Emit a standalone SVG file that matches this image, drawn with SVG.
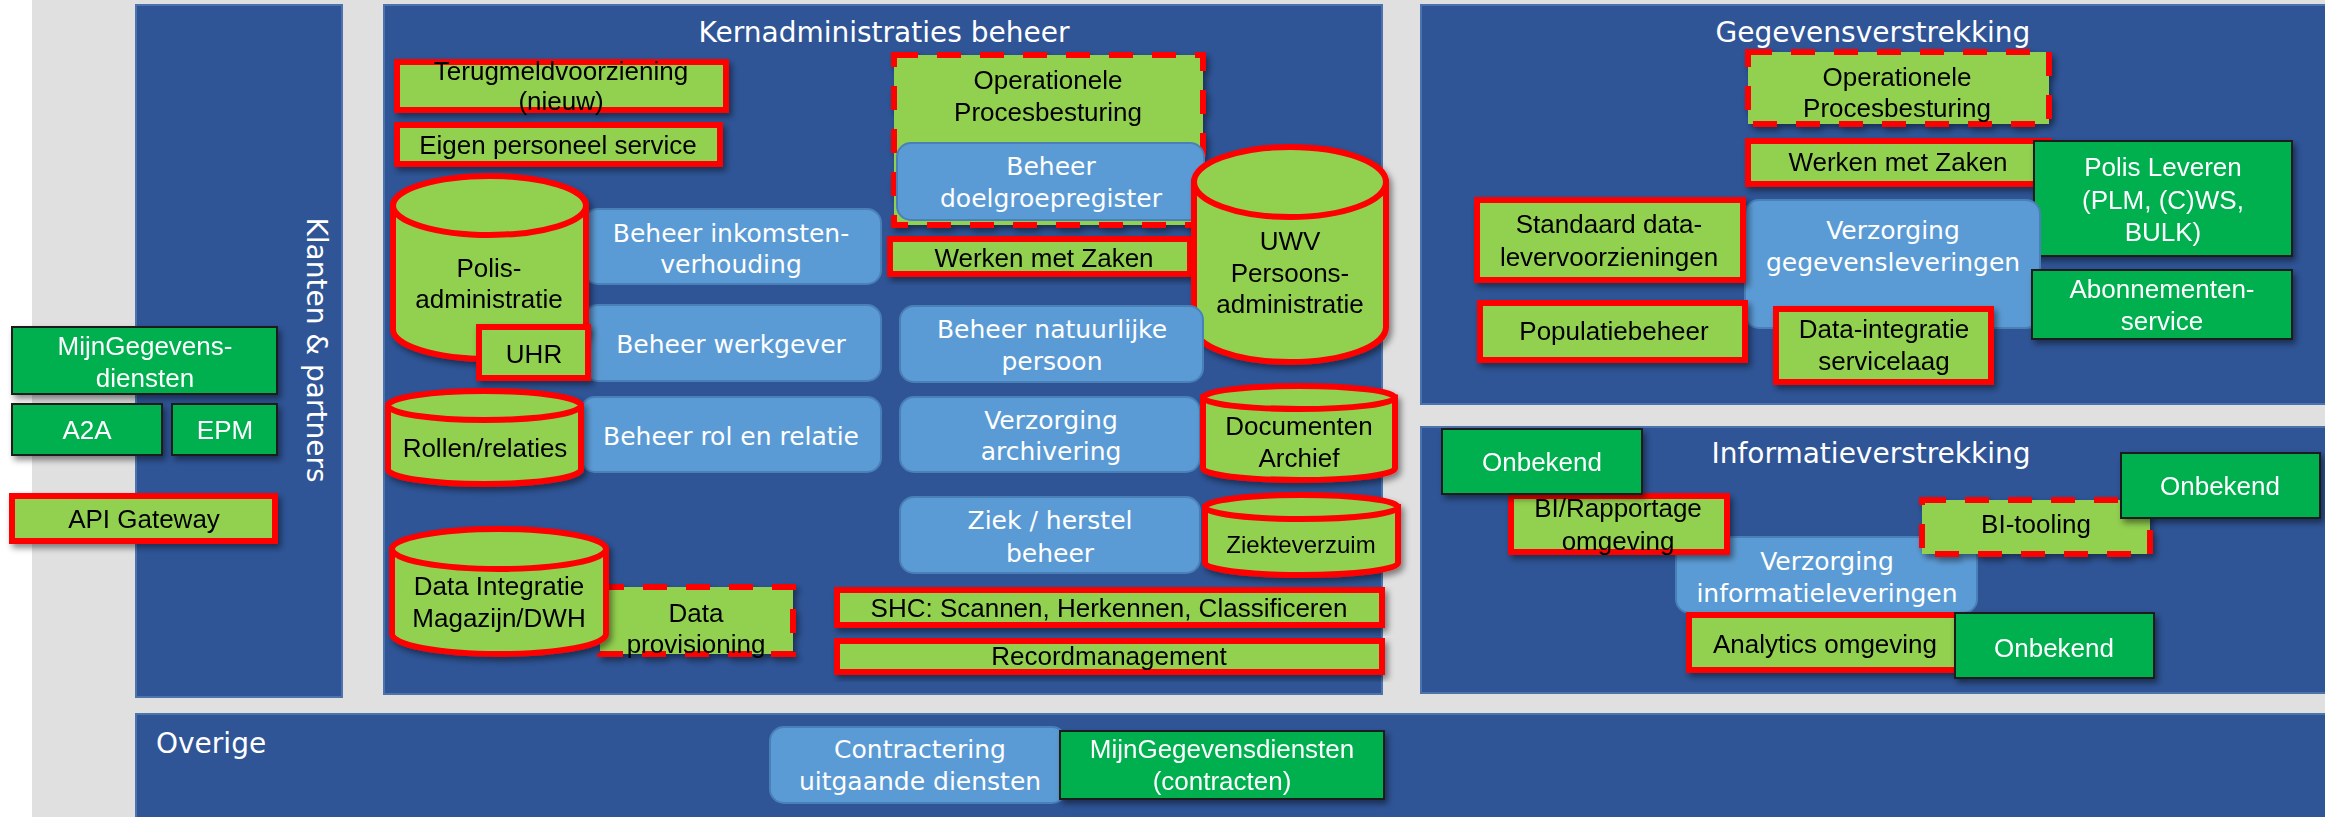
<svg xmlns="http://www.w3.org/2000/svg" width="2325" height="817" viewBox="0 0 2325 817">
<defs>
<filter id="sh" x="-10%" y="-10%" width="130%" height="140%">
<feDropShadow dx="3" dy="4" stdDeviation="3" flood-color="#000" flood-opacity="0.45"/>
</filter>
<style>
.panel{fill:#2F5597;stroke:#4C74AC;stroke-width:2}
.blue{fill:#5B9BD5;stroke:#4A80B8;stroke-width:2}
.grn{fill:#92D050;stroke:#FF0000;stroke-width:6}
.dash{fill:#92D050;stroke:#FF0000;stroke-width:6;stroke-dasharray:24 19}
.dg{fill:#00B050;stroke:#1A1A1A;stroke-width:2}
.v{font-family:"DejaVu Sans",Verdana,sans-serif;fill:#FFFFFF;font-size:25px;text-anchor:middle}
.t{font-family:"DejaVu Sans",Verdana,sans-serif;fill:#FFFFFF;font-size:28px;text-anchor:middle}
.ts{font-family:"DejaVu Sans",Verdana,sans-serif;fill:#FFFFFF;font-size:28px;text-anchor:start}
.k{font-family:"Liberation Sans",Arial,sans-serif;fill:#000000;font-size:26px;text-anchor:middle}
.w{font-family:"Liberation Sans",Arial,sans-serif;fill:#FFFFFF;font-size:26px;text-anchor:middle}
</style>
</defs>
<rect x="0" y="0" width="2325" height="817" fill="#FFFFFF"/>
<rect x="32" y="0" width="2293" height="817" fill="#E0E0E0"/>

<g id="panels">
<g id="panel-klanten"><rect class="panel" x="136" y="5" width="206" height="692"/>
<text class="t" transform="translate(316,350) rotate(90)" dominant-baseline="central">Klanten &amp; partners</text></g>
<g id="panel-kern"><rect class="panel" x="384" y="5" width="998" height="689"/>
<text class="t" x="884" y="42">Kernadministraties beheer</text></g>
<g id="panel-gegevens"><rect class="panel" x="1421" y="5" width="910" height="399"/>
<text class="t" x="1873" y="42">Gegevensverstrekking</text></g>
<g id="panel-informatie"><rect class="panel" x="1421" y="427" width="910" height="266"/>
<text class="t" x="1871" y="463">Informatieverstrekking</text></g>
<g id="panel-overige"><rect class="panel" x="136" y="714" width="2195" height="110"/>
<text class="ts" x="156" y="753">Overige</text></g>
</g>

<g id="connectors"></g>

<!-- Left -->
<g id="n-mijngegevens" filter="url(#sh)"><rect class="dg" x="12" y="327" width="265" height="67"/>
<text class="w" x="145" y="355">MijnGegevens-</text><text class="w" x="145" y="387">diensten</text></g>
<g id="n-a2a" filter="url(#sh)"><rect class="dg" x="12" y="404" width="150" height="51"/><text class="w" x="87" y="439">A2A</text></g>
<g id="n-epm" filter="url(#sh)"><rect class="dg" x="172" y="404" width="105" height="51"/><text class="w" x="225" y="439">EPM</text></g>
<g id="n-api" filter="url(#sh)"><rect class="grn" x="12" y="496" width="263" height="45"/><text class="k" x="144" y="528">API Gateway</text></g>

<!-- Kern -->
<g id="n-terugmeld" filter="url(#sh)"><rect class="grn" x="397" y="62" width="329" height="48"/>
<text class="k" x="561" y="80">Terugmeldvoorziening</text><text class="k" x="561" y="110">(nieuw)</text></g>
<g id="n-eigen" filter="url(#sh)"><rect class="grn" x="397" y="125" width="323" height="39"/><text class="k" x="558" y="154">Eigen personeel service</text></g>

<g id="n-inkomsten"><rect class="blue" x="584" y="209" width="297" height="75" rx="14"/>
<text class="v" x="731" y="242">Beheer inkomsten-</text><text class="v" x="731" y="273">verhouding</text></g>
<g id="n-werkgever"><rect class="blue" x="584" y="305" width="297" height="76" rx="14"/><text class="v" x="731" y="353">Beheer werkgever</text></g>
<g id="n-rolrelatie"><rect class="blue" x="581" y="397" width="300" height="75" rx="14"/><text class="v" x="731" y="445">Beheer rol en relatie</text></g>

<g id="n-polis" filter="url(#sh)">
<path class="grn" d="M393,205.5 V329.5 A96.5,29.5 0 0 0 586,329.5 V205.5 Z"/>
<ellipse class="grn" cx="489.5" cy="205.5" rx="96.5" ry="29.5"/>
<text class="k" x="489" y="277">Polis-</text><text class="k" x="489" y="308">administratie</text></g>
<g id="n-uhr" filter="url(#sh)"><rect class="grn" x="479" y="327" width="109" height="51"/><text class="k" x="534" y="363">UHR</text></g>
<g id="n-rollen" filter="url(#sh)">
<path class="grn" d="M388,405.5 V469.5 A96.5,14.5 0 0 0 581,469.5 V405.5 Z"/>
<ellipse class="grn" cx="484.5" cy="405.5" rx="96.5" ry="14.5"/>
<text class="k" x="485" y="457">Rollen/relaties</text></g>

<g id="n-provisioning" filter="url(#sh)"><rect class="dash" x="600" y="587" width="193" height="67"/>
<text class="k" x="696" y="622">Data</text><text class="k" x="696" y="653">provisioning</text></g>
<g id="n-dwh" filter="url(#sh)">
<path class="grn" d="M392,549 V634 A107,20 0 0 0 606,634 V549 Z"/>
<ellipse class="grn" cx="499" cy="549" rx="107" ry="20"/>
<text class="k" x="499" y="595">Data Integratie</text><text class="k" x="499" y="627">Magazijn/DWH</text></g>

<g id="n-oper-kern" filter="url(#sh)"><rect class="dash" x="894" y="55" width="309" height="170"/>
<text class="k" x="1048" y="89">Operationele</text><text class="k" x="1048" y="121">Procesbesturing</text></g>
<g id="n-doelgroep"><rect class="blue" x="897" y="143" width="307" height="77" rx="14"/>
<text class="v" x="1051" y="175">Beheer</text><text class="v" x="1051" y="207">doelgroepregister</text></g>
<g id="n-zaken-kern" filter="url(#sh)"><rect class="grn" x="890" y="239" width="300" height="35"/><text class="k" x="1044" y="267">Werken met Zaken</text></g>
<g id="n-uwv" filter="url(#sh)">
<path class="grn" d="M1194,182 V327 A96,35 0 0 0 1386,327 V182 Z"/>
<ellipse class="grn" cx="1290" cy="182" rx="96" ry="35"/>
<text class="k" x="1290" y="250">UWV</text><text class="k" x="1290" y="282">Persoons-</text><text class="k" x="1290" y="313">administratie</text></g>

<g id="n-natuurlijk"><rect class="blue" x="900" y="306" width="303" height="76" rx="14"/>
<text class="v" x="1052" y="338">Beheer natuurlijke</text><text class="v" x="1052" y="370">persoon</text></g>
<g id="n-archivering"><rect class="blue" x="900" y="397" width="300" height="75" rx="14"/>
<text class="v" x="1051" y="429">Verzorging</text><text class="v" x="1051" y="460">archivering</text></g>
<g id="n-documenten" filter="url(#sh)">
<path class="grn" d="M1203,397.5 V468.5 A96,11.5 0 0 0 1395,468.5 V397.5 Z"/>
<ellipse class="grn" cx="1299" cy="397.5" rx="96" ry="11.5"/>
<text class="k" x="1299" y="435">Documenten</text><text class="k" x="1299" y="467">Archief</text></g>
<g id="n-ziek"><rect class="blue" x="900" y="497" width="300" height="76" rx="14"/>
<text class="v" x="1050" y="529">Ziek / herstel</text><text class="v" x="1050" y="562">beheer</text></g>
<g id="n-ziekteverzuim" filter="url(#sh)">
<path class="grn" d="M1205,507 V563 A96.5,12 0 0 0 1398,563 V507 Z"/>
<ellipse class="grn" cx="1301.5" cy="507" rx="96.5" ry="12"/>
<text class="k" x="1301" y="553" style="font-size:24px">Ziekteverzuim</text></g>
<g id="n-shc" filter="url(#sh)"><rect class="grn" x="837" y="590" width="545" height="35"/><text class="k" x="1109" y="617">SHC: Scannen, Herkennen, Classificeren</text></g>
<g id="n-record" filter="url(#sh)"><rect class="grn" x="837" y="641" width="545" height="31"/><text class="k" x="1109" y="665">Recordmanagement</text></g>

<!-- Gegevensverstrekking -->
<g id="n-oper-geg" filter="url(#sh)"><rect class="dash" x="1748" y="52" width="301" height="72"/>
<text class="k" x="1897" y="86">Operationele</text><text class="k" x="1897" y="117">Procesbesturing</text></g>
<g id="n-zaken-geg" filter="url(#sh)"><rect class="grn" x="1748" y="141" width="301" height="43"/><text class="k" x="1898" y="171">Werken met Zaken</text></g>
<g id="n-polisleveren" filter="url(#sh)"><rect class="dg" x="2034" y="141" width="258" height="115"/>
<text class="w" x="2163" y="176">Polis Leveren</text><text class="w" x="2163" y="209">(PLM, (C)WS,</text><text class="w" x="2163" y="241">BULK)</text></g>
<g id="n-gegevensleveringen"><rect class="blue" x="1745" y="200" width="295" height="128" rx="14"/>
<text class="v" x="1893" y="239">Verzorging</text><text class="v" x="1893" y="271">gegevensleveringen</text></g>
<g id="n-standaard" filter="url(#sh)"><rect class="grn" x="1477" y="200" width="266" height="80"/>
<text class="k" x="1609" y="233">Standaard data-</text><text class="k" x="1609" y="266">levervoorzieningen</text></g>
<g id="n-abonnementen" filter="url(#sh)"><rect class="dg" x="2032" y="270" width="260" height="69"/>
<text class="w" x="2162" y="298">Abonnementen-</text><text class="w" x="2162" y="330">service</text></g>
<g id="n-populatie" filter="url(#sh)"><rect class="grn" x="1480" y="303" width="265" height="57"/><text class="k" x="1614" y="340">Populatiebeheer</text></g>
<g id="n-dataintegratie" filter="url(#sh)"><rect class="grn" x="1776" y="309" width="215" height="73"/>
<text class="k" x="1884" y="338">Data-integratie</text><text class="k" x="1884" y="370">servicelaag</text></g>

<!-- Informatieverstrekking -->
<g id="n-informatieleveringen"><rect class="blue" x="1676" y="537" width="301" height="76" rx="14"/>
<text class="v" x="1827" y="570">Verzorging</text><text class="v" x="1827" y="602">informatieleveringen</text></g>
<g id="n-bi-rapportage" filter="url(#sh)"><rect class="grn" x="1511" y="496" width="216" height="56"/>
<text class="k" x="1618" y="517">BI/Rapportage</text><text class="k" x="1618" y="550">omgeving</text></g>
<g id="n-onbekend-1" filter="url(#sh)"><rect class="dg" x="1442" y="429" width="200" height="65"/><text class="w" x="1542" y="471">Onbekend</text></g>
<g id="n-bi-tooling" filter="url(#sh)"><rect class="dash" x="1922" y="500" width="228" height="54"/><text class="k" x="2036" y="533">BI-tooling</text></g>
<g id="n-onbekend-2" filter="url(#sh)"><rect class="dg" x="2121" y="453" width="199" height="65"/><text class="w" x="2220" y="495">Onbekend</text></g>
<g id="n-analytics" filter="url(#sh)"><rect class="grn" x="1689" y="615" width="273" height="55"/><text class="k" x="1825" y="653">Analytics omgeving</text></g>
<g id="n-onbekend-3" filter="url(#sh)"><rect class="dg" x="1955" y="613" width="199" height="65"/><text class="w" x="2054" y="657">Onbekend</text></g>

<!-- Overige -->
<g id="n-contractering"><rect class="blue" x="770" y="727" width="296" height="76" rx="14"/>
<text class="v" x="920" y="758">Contractering</text><text class="v" x="920" y="790">uitgaande diensten</text></g>
<g id="n-mijngegevens-contracten" filter="url(#sh)"><rect class="dg" x="1060" y="731" width="324" height="68"/>
<text class="w" x="1222" y="758">MijnGegevensdiensten</text><text class="w" x="1222" y="790">(contracten)</text></g>
</svg>
